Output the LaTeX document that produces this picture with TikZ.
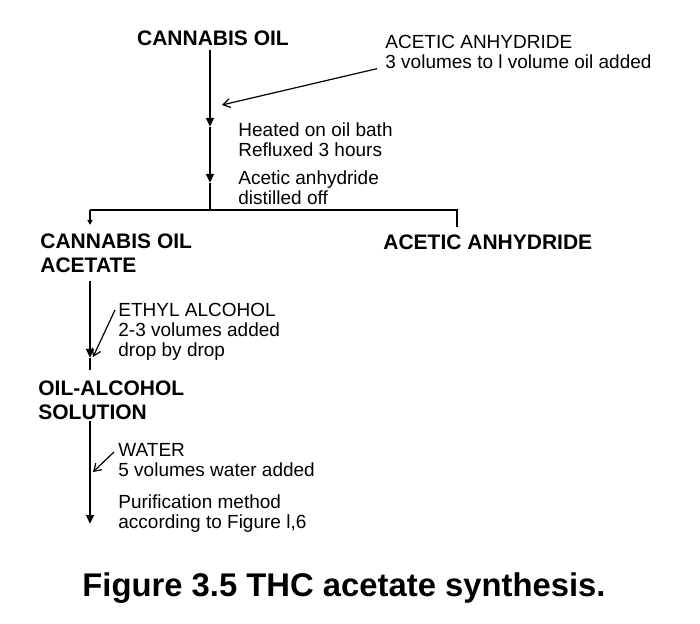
\documentclass[tikz,border=0pt]{standalone}
\usepackage{fontspec}
\setmainfont{Liberation Sans}
\usetikzlibrary{arrows.meta}

\begin{document}
\begin{tikzpicture}[x=0.5pt,y=-0.5pt,
                    every node/.style={inner sep=0pt,align=left},
                    head/.style={font=\bfseries\fontsize{10.5}{12.2}\selectfont},
                    note/.style={font=\fontsize{9.5}{10}\selectfont},
                    flow/.style={line width=1.3pt},
                    tipflow/.style={flow,-{Triangle[length=4.5pt,width=3.8pt]}},
                    feed/.style={line width=0.6pt,-{Straight Barb[length=3.5pt,width=4.5pt]}}]
  \useasboundingbox (0,0) rectangle (700,624);
  % first step
  \node[head,anchor=north] (oil) at (213,30) {CANNABIS OIL};
  \node[note,anchor=north west] (anh) at (385,35)
    {ACETIC ANHYDRIDE\\3 volumes to l volume oil added};
  \node[note,anchor=north west] (heat) at (238,122)
    {Heated on oil bath\\Refluxed 3 hours};
  \node[note,anchor=north west] (dist) at (238,170)
    {Acetic anhydride\\distilled off};
  \coordinate (m0) at (210,50);
  \coordinate (j1) at (222,105);
  \coordinate (t1) at (210,127);
  \coordinate (t2) at (210,183);
  \coordinate (bm) at (210,210);
  \draw[tipflow] (m0) -- (t1);
  \draw[tipflow] (t1) -- (t2);
  \draw[flow] (t2) -- (bm);
  \draw[feed] (anh.base west) ++(-8,0) -- (j1);
  % split
  \coordinate (bl) at (90,210);
  \coordinate (br) at (457,210);
  \draw[flow] (bl) -- (br) -- ++(0,17);
  \draw[line width=0.8pt,-{Triangle[length=2.5pt,width=2.5pt]}] (bl) -- ++(0,15);
  \node[head,anchor=north west] (acet) at (40,233)
    {CANNABIS OIL\\ACETATE};
  \node[head,anchor=north west] (rest) at (383,234) {ACETIC ANHYDRIDE};
  % alcohol
  \node[note,anchor=north west] (eth) at (118,303)
    {ETHYL ALCOHOL\\2-3 volumes added\\drop by drop};
  \coordinate (s0) at (90,281);
  \coordinate (s1) at (90,358);
  \coordinate (s2) at (90,370);
  \coordinate (j2) at (93,357);
  \draw[tipflow] (s0) -- (s1);
  \draw[flow] (s1) -- (s2);
  \draw[feed] (eth.north west) ++(-3,7) -- (j2);
  \node[head,anchor=north west] (sol) at (38,380)
    {OIL-ALCOHOL\\SOLUTION};
  % water
  \node[note,anchor=north west] (wat) at (118,443)
    {WATER\\5 volumes water added};
  \node[note,anchor=north west] (pur) at (118,494)
    {Purification method\\according to Figure l,6};
  \coordinate (w0) at (90,421);
  \coordinate (w1) at (90,524);
  \coordinate (j3) at (93,472);
  \draw[tipflow] (w0) -- (w1);
  \draw[feed] (wat.north west) ++(-4,9) -- (j3);
  \node[font=\bfseries\fontsize{16.4}{18}\selectfont,anchor=north] (cap) at (344,572)
    {Figure 3.5 THC acetate synthesis.};
\end{tikzpicture}
\end{document}
